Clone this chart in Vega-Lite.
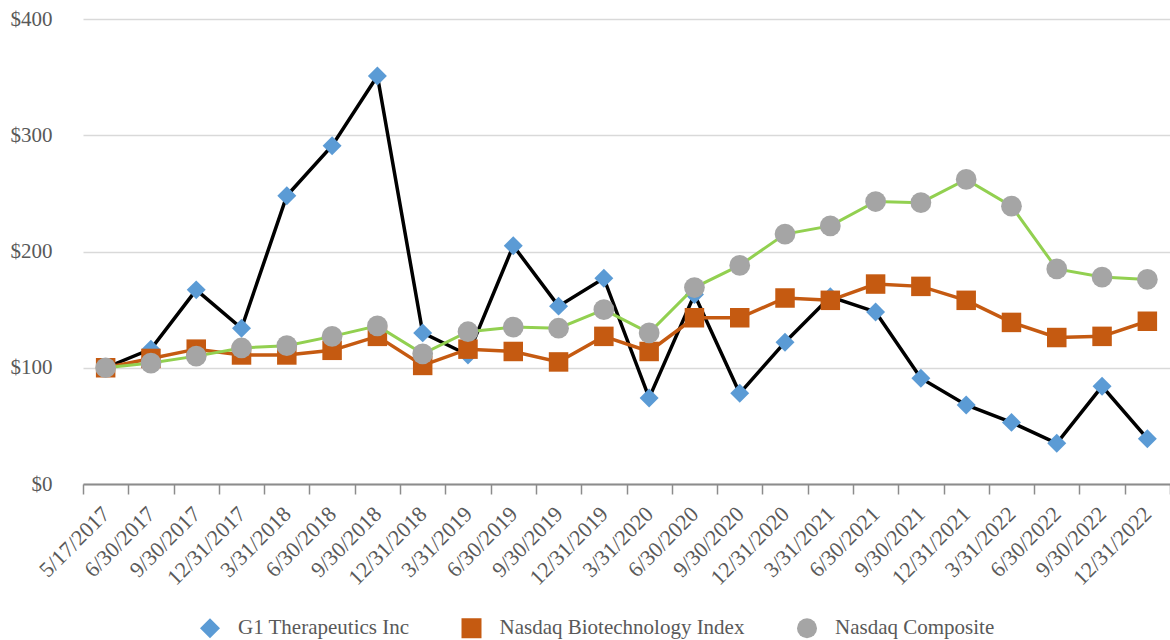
{
  "$schema": "https://vega.github.io/schema/vega-lite/v6.json",
  "autosize": {"type": "none"},
  "padding": {"left": 83, "top": 19, "right": 0, "bottom": 156},
  "width": 1087,
  "height": 465,
  "background": "white",
  "config": {
    "view": {"stroke": null},
    "font": "Liberation Serif, Times New Roman, serif"
  },
  "data": {"values": [
    {"date": "5/17/2017", "series": "G1 Therapeutics Inc", "value": 100},
    {"date": "6/30/2017", "series": "G1 Therapeutics Inc", "value": 116},
    {"date": "9/30/2017", "series": "G1 Therapeutics Inc", "value": 167},
    {"date": "12/31/2017", "series": "G1 Therapeutics Inc", "value": 134},
    {"date": "3/31/2018", "series": "G1 Therapeutics Inc", "value": 248},
    {"date": "6/30/2018", "series": "G1 Therapeutics Inc", "value": 291},
    {"date": "9/30/2018", "series": "G1 Therapeutics Inc", "value": 351},
    {"date": "12/31/2018", "series": "G1 Therapeutics Inc", "value": 130},
    {"date": "3/31/2019", "series": "G1 Therapeutics Inc", "value": 111},
    {"date": "6/30/2019", "series": "G1 Therapeutics Inc", "value": 205},
    {"date": "9/30/2019", "series": "G1 Therapeutics Inc", "value": 153},
    {"date": "12/31/2019", "series": "G1 Therapeutics Inc", "value": 177},
    {"date": "3/31/2020", "series": "G1 Therapeutics Inc", "value": 74},
    {"date": "6/30/2020", "series": "G1 Therapeutics Inc", "value": 163},
    {"date": "9/30/2020", "series": "G1 Therapeutics Inc", "value": 78},
    {"date": "12/31/2020", "series": "G1 Therapeutics Inc", "value": 122},
    {"date": "3/31/2021", "series": "G1 Therapeutics Inc", "value": 161},
    {"date": "6/30/2021", "series": "G1 Therapeutics Inc", "value": 148},
    {"date": "9/30/2021", "series": "G1 Therapeutics Inc", "value": 91},
    {"date": "12/31/2021", "series": "G1 Therapeutics Inc", "value": 68},
    {"date": "3/31/2022", "series": "G1 Therapeutics Inc", "value": 53},
    {"date": "6/30/2022", "series": "G1 Therapeutics Inc", "value": 35},
    {"date": "9/30/2022", "series": "G1 Therapeutics Inc", "value": 84},
    {"date": "12/31/2022", "series": "G1 Therapeutics Inc", "value": 39},
    {"date": "5/17/2017", "series": "Nasdaq Biotechnology Index", "value": 100},
    {"date": "6/30/2017", "series": "Nasdaq Biotechnology Index", "value": 108},
    {"date": "9/30/2017", "series": "Nasdaq Biotechnology Index", "value": 116},
    {"date": "12/31/2017", "series": "Nasdaq Biotechnology Index", "value": 111},
    {"date": "3/31/2018", "series": "Nasdaq Biotechnology Index", "value": 111},
    {"date": "6/30/2018", "series": "Nasdaq Biotechnology Index", "value": 115},
    {"date": "9/30/2018", "series": "Nasdaq Biotechnology Index", "value": 127},
    {"date": "12/31/2018", "series": "Nasdaq Biotechnology Index", "value": 102},
    {"date": "3/31/2019", "series": "Nasdaq Biotechnology Index", "value": 116},
    {"date": "6/30/2019", "series": "Nasdaq Biotechnology Index", "value": 114},
    {"date": "9/30/2019", "series": "Nasdaq Biotechnology Index", "value": 105},
    {"date": "12/31/2019", "series": "Nasdaq Biotechnology Index", "value": 127},
    {"date": "3/31/2020", "series": "Nasdaq Biotechnology Index", "value": 114},
    {"date": "6/30/2020", "series": "Nasdaq Biotechnology Index", "value": 143},
    {"date": "9/30/2020", "series": "Nasdaq Biotechnology Index", "value": 143},
    {"date": "12/31/2020", "series": "Nasdaq Biotechnology Index", "value": 160},
    {"date": "3/31/2021", "series": "Nasdaq Biotechnology Index", "value": 158},
    {"date": "6/30/2021", "series": "Nasdaq Biotechnology Index", "value": 172},
    {"date": "9/30/2021", "series": "Nasdaq Biotechnology Index", "value": 170},
    {"date": "12/31/2021", "series": "Nasdaq Biotechnology Index", "value": 158},
    {"date": "3/31/2022", "series": "Nasdaq Biotechnology Index", "value": 139},
    {"date": "6/30/2022", "series": "Nasdaq Biotechnology Index", "value": 126},
    {"date": "9/30/2022", "series": "Nasdaq Biotechnology Index", "value": 127},
    {"date": "12/31/2022", "series": "Nasdaq Biotechnology Index", "value": 140},
    {"date": "5/17/2017", "series": "Nasdaq Composite", "value": 100},
    {"date": "6/30/2017", "series": "Nasdaq Composite", "value": 104},
    {"date": "9/30/2017", "series": "Nasdaq Composite", "value": 110},
    {"date": "12/31/2017", "series": "Nasdaq Composite", "value": 117},
    {"date": "3/31/2018", "series": "Nasdaq Composite", "value": 119},
    {"date": "6/30/2018", "series": "Nasdaq Composite", "value": 127},
    {"date": "9/30/2018", "series": "Nasdaq Composite", "value": 136},
    {"date": "12/31/2018", "series": "Nasdaq Composite", "value": 112},
    {"date": "3/31/2019", "series": "Nasdaq Composite", "value": 131},
    {"date": "6/30/2019", "series": "Nasdaq Composite", "value": 135},
    {"date": "9/30/2019", "series": "Nasdaq Composite", "value": 134},
    {"date": "12/31/2019", "series": "Nasdaq Composite", "value": 150},
    {"date": "3/31/2020", "series": "Nasdaq Composite", "value": 130},
    {"date": "6/30/2020", "series": "Nasdaq Composite", "value": 169},
    {"date": "9/30/2020", "series": "Nasdaq Composite", "value": 188},
    {"date": "12/31/2020", "series": "Nasdaq Composite", "value": 215},
    {"date": "3/31/2021", "series": "Nasdaq Composite", "value": 222},
    {"date": "6/30/2021", "series": "Nasdaq Composite", "value": 243},
    {"date": "9/30/2021", "series": "Nasdaq Composite", "value": 242},
    {"date": "12/31/2021", "series": "Nasdaq Composite", "value": 262},
    {"date": "3/31/2022", "series": "Nasdaq Composite", "value": 239},
    {"date": "6/30/2022", "series": "Nasdaq Composite", "value": 185},
    {"date": "9/30/2022", "series": "Nasdaq Composite", "value": 178},
    {"date": "12/31/2022", "series": "Nasdaq Composite", "value": 176}
  ]},
  "encoding": {
    "x": {
      "field": "date", "type": "nominal",
      "scale": {"type": "band", "paddingInner": 0, "paddingOuter": 0,
        "domain": ["5/17/2017","6/30/2017","9/30/2017","12/31/2017","3/31/2018","6/30/2018","9/30/2018","12/31/2018","3/31/2019","6/30/2019","9/30/2019","12/31/2019","3/31/2020","6/30/2020","9/30/2020","12/31/2020","3/31/2021","6/30/2021","9/30/2021","12/31/2021","3/31/2022","6/30/2022","9/30/2022","12/31/2022"]},
      "axis": {
        "title": null, "grid": false, "tickBand": "extent",
        "domainColor": "#8c8c8c", "domainWidth": 2,
        "tickColor": "#8c8c8c", "tickWidth": 1.5, "tickSize": 10,
        "labelAngle": -45, "labelAlign": "right", "labelBaseline": "middle",
        "labelFont": "Liberation Serif, Times New Roman, serif", "labelFontSize": 22, "labelColor": "#595959",
        "labelPadding": 16, "labelOverlap": false
      }
    },
    "y": {
      "field": "value", "type": "quantitative",
      "scale": {"domain": [0, 400], "nice": false},
      "axis": {
        "title": null, "values": [0, 100, 200, 300, 400], "format": "$,.0f",
        "grid": true, "gridColor": "#d9d9d9", "gridWidth": 1.5,
        "domain": false, "ticks": false,
        "labelFont": "Liberation Serif, Times New Roman, serif", "labelFontSize": 21, "labelColor": "#595959",
        "labelPadding": 31
      }
    }
  },
  "layer": [
    {
      "transform": [{"filter": "datum.series == 'G1 Therapeutics Inc'"}],
      "mark": {"type": "line", "strokeWidth": 3.5},
      "encoding": {"stroke": {"field": "series", "type": "nominal",
        "scale": {"domain": ["Nasdaq Composite", "Nasdaq Biotechnology Index", "G1 Therapeutics Inc"], "range": ["#92d050", "#c55a11", "#000000"]},
        "legend": null}}
    },
    {
      "transform": [{"filter": "datum.series == 'G1 Therapeutics Inc'"}],
      "mark": {"type": "point", "filled": true, "size": 360, "opacity": 1, "strokeWidth": 0},
      "encoding": {
        "fill": {"field": "series", "type": "nominal",
          "scale": {"domain": ["G1 Therapeutics Inc", "Nasdaq Biotechnology Index", "Nasdaq Composite"], "range": ["#5b9bd5", "#c55a11", "#a5a5a5"]},
          "legend": {"orient": "none", "legendX": 116.5, "legendY": 598.5, "direction": "horizontal", "title": null,
            "symbolSize": 400, "symbolStrokeWidth": 0, "symbolOpacity": 1, "padding": 0,
            "labelFont": "Liberation Serif, Times New Roman, serif", "labelFontSize": 21, "labelColor": "#595959", "labelLimit": 500,
            "labelOffset": 17.5, "columnPadding": 51.5}},
        "shape": {"field": "series", "type": "nominal",
          "scale": {"domain": ["G1 Therapeutics Inc", "Nasdaq Biotechnology Index", "Nasdaq Composite"], "range": ["diamond", "square", "circle"]},
          "legend": {"orient": "none", "legendX": 116.5, "legendY": 598.5, "direction": "horizontal", "title": null,
            "symbolSize": 400, "symbolStrokeWidth": 0, "symbolOpacity": 1, "padding": 0,
            "labelFont": "Liberation Serif, Times New Roman, serif", "labelFontSize": 21, "labelColor": "#595959", "labelLimit": 500,
            "labelOffset": 17.5, "columnPadding": 51.5}}
      }
    },
    {
      "transform": [{"filter": "datum.series == 'Nasdaq Biotechnology Index'"}],
      "mark": {"type": "line", "strokeWidth": 3.5},
      "encoding": {"stroke": {"field": "series", "type": "nominal", "legend": null}}
    },
    {
      "transform": [{"filter": "datum.series == 'Nasdaq Biotechnology Index'"}],
      "mark": {"type": "point", "filled": true, "size": 380, "opacity": 1, "strokeWidth": 0},
      "encoding": {"fill": {"field": "series", "type": "nominal"}, "shape": {"field": "series", "type": "nominal"}}
    },
    {
      "transform": [{"filter": "datum.series == 'Nasdaq Composite'"}],
      "mark": {"type": "line", "strokeWidth": 3},
      "encoding": {"stroke": {"field": "series", "type": "nominal", "legend": null}}
    },
    {
      "transform": [{"filter": "datum.series == 'Nasdaq Composite'"}],
      "mark": {"type": "point", "filled": true, "size": 430, "opacity": 1, "strokeWidth": 0},
      "encoding": {"fill": {"field": "series", "type": "nominal"}, "shape": {"field": "series", "type": "nominal"}}
    }
  ]
}
